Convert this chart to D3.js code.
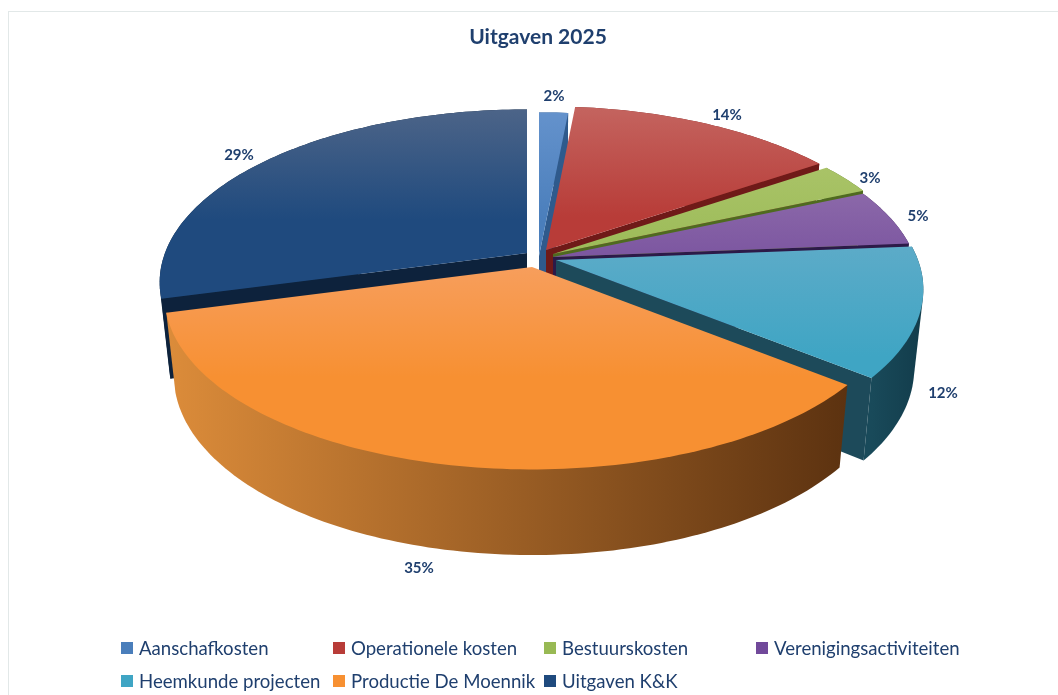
<!DOCTYPE html>
<html>
<head>
<meta charset="utf-8">
<script src="https://cdn.jsdelivr.net/npm/d3@7"></script>
<style>
  html, body { margin: 0; padding: 0; background: #fff; overflow: hidden; }
  svg { filter: blur(0.5px); }
  text { font-family: Lato, "Open Sans", sans-serif; fill: #1f3f6e; }
</style>
</head>
<body>
<script>
// Chart data
const title = "Uitgaven 2025";
const categories = ["Aanschafkosten", "Operationele kosten", "Bestuurskosten", "Verenigingsactiviteiten",
                    "Heemkunde projecten", "Productie De Moennik", "Uitgaven K&K"];
const values = [1.5, 14.0, 2.9, 5.3, 12.1, 35.0, 29.2];
const labels = ["2%", "14%", "3%", "5%", "12%", "35%", "29%"];

// Colours per slice: top surface (light to full), outer wall (left to right), cut face
const topLight = ["#6492cc", "#c4645f", "#a9c367", "#8b68a9", "#5cabc8", "#f79e5c", "#4c6488"];
const topFull = ["#4a7ebb", "#b83c38", "#98b954", "#71499a", "#3fa5c4", "#f79032", "#1f4a7e"];
const wallLeft = ["#2f5a8c", "#7a1f1c", "#5f7a2a", "#38224f", "#194a5a", "#dc8c3a", "#10263f"];
const wallRight = ["#2f5a8c", "#7a1f1c", "#5f7a2a", "#38224f", "#123c4b", "#5c3210", "#0c2038"];
const cutFace = ["#2f5a8c", "#6f1a18", "#4f6a20", "#2c1a48", "#1d4a5a", "#8a5018", "#0d223c"];

// Layout
const W = 1058, H = 695;
const radiusX = 362;    // horizontal radius of the disc
const radiusY = 168;    // vertical radius before perspective
const persp = 0.17;     // how much nearer the front edge looks
const depth = 78;       // height of the disc
const converge = 0.975; // bottom ring is a bit narrower

// apex of each (exploded) slice on the page
const apexX = [539, 546, 553, 553, 556, 532, 527];
const apexY = [256, 250, 254, 257, 260, 267, 253];
const labelX = [554, 727, 870, 918, 943, 419, 239];
const labelY = [96, 115, 178, 216, 393, 568, 155];
const legendX = [121, 333, 544, 756];
const legendY = [648, 681];
const drawOrder = [6, 0, 1, 2, 3, 4, 5];

const svg = d3.select("body")
    .append("svg")
    .attr("width", W)
    .attr("height", H);

const defs = svg.append("defs");

svg.append("rect")
    .attr("x", 8.5)
    .attr("y", 11.5)
    .attr("width", W)
    .attr("height", H)
    .attr("fill", "#fff")
    .attr("stroke", "#e2e8e8");

svg.append("text")
    .attr("x", 538)
    .attr("y", 44)
    .attr("text-anchor", "middle")
    .style("font-size", "21px")
    .style("font-weight", 700)
    .text(title);

const pie = d3.pie().sort(null).value(d => d);
const arcs = pie(values);

// unit disc -> page, relative to the slice apex
function project(i, angle, r, bottom) {
    const s = 1 / (1 + persp * r * Math.cos(angle));
    const c = bottom ? converge : 1;
    const x = apexX[i] + radiusX * r * Math.sin(angle) * s * c;
    let y = apexY[i] - radiusY * r * Math.cos(angle) * s;
    if (bottom) y += depth * Math.sqrt(s);
    return [x, y];
}

function ring(i, a0, a1, bottom) {
    const n = Math.max(2, Math.ceil(Math.abs(a1 - a0) / 0.02));
    return d3.range(n + 1).map(k => project(i, a0 + (a1 - a0) * k / n, 1, bottom));
}

const path = d3.line();
const closed = pts => path(pts) + "Z";

function gradient(id, x1, y1, x2, y2, stops) {
    const g = defs.append("linearGradient")
        .attr("id", id)
        .attr("gradientUnits", "userSpaceOnUse")
        .attr("x1", x1).attr("y1", y1)
        .attr("x2", x2).attr("y2", y2);
    stops.forEach(s => g.append("stop").attr("offset", s[0]).attr("stop-color", s[1]));
}

const pieG = svg.append("g");

// back slices first, the big orange front slice last
drawOrder.forEach(i => {
    const d = arcs[i];
    const a0 = d.startAngle, a1 = d.endAngle;
    const top = ring(i, a0, a1, false);
    const low = ring(i, a0, a1, true);
    const apexTop = project(i, 0, 0, false);
    const apexLow = project(i, 0, 0, true);
    const g = pieG.append("g").attr("class", "slice");

    const wallExtent = d3.extent(top, p => p[0]);
    gradient("wall" + i, wallExtent[0], 0, wallExtent[1], 0, [[0, wallLeft[i]], [1, wallRight[i]]]);
    const topExtent = d3.extent(top.concat([apexTop]), p => p[1]);
    gradient("top" + i, 0, topExtent[0], 0, topExtent[0] + 110, [[0, topLight[i]], [1, topFull[i]]]);

    // outer wall, hull so the silhouette between both rings is filled too
    g.append("path")
        .attr("d", closed(d3.polygonHull(top.concat(low))))
        .attr("fill", `url(#wall${i})`);

    // cut faces, only those turned towards the viewer
    if (Math.sin(a0) < 0) {
        g.append("path")
            .attr("d", closed([apexTop, top[0], low[0], apexLow]))
            .attr("fill", cutFace[i]);
    }
    if (Math.sin(a1) > 0) {
        g.append("path")
            .attr("d", closed([apexTop, top[top.length - 1], low[low.length - 1], apexLow]))
            .attr("fill", cutFace[i]);
    }

    // top surface
    g.append("path")
        .attr("d", closed([apexTop].concat(top)))
        .attr("fill", `url(#top${i})`);
});

// data labels
svg.selectAll(".pct")
    .data(labels)
    .enter()
    .append("text")
    .attr("class", "pct")
    .attr("x", (d, i) => labelX[i])
    .attr("y", (d, i) => labelY[i])
    .attr("dy", ".35em")
    .attr("text-anchor", "middle")
    .style("font-size", "15px")
    .style("font-weight", 700)
    .text(d => d);

// legend, 4 columns
const legend = svg.selectAll(".legend-item")
    .data(categories)
    .enter()
    .append("g")
    .attr("class", "legend-item")
    .attr("transform", (d, i) => `translate(${legendX[i % 4]},${legendY[Math.floor(i / 4)]})`);

legend.append("rect")
    .attr("y", -6)
    .attr("width", 12)
    .attr("height", 12)
    .attr("fill", (d, i) => topFull[i]);

legend.append("text")
    .attr("x", 18)
    .attr("dy", ".35em")
    .style("font-size", "18.6px")
    .text(d => d);
</script>
</body>
</html>
